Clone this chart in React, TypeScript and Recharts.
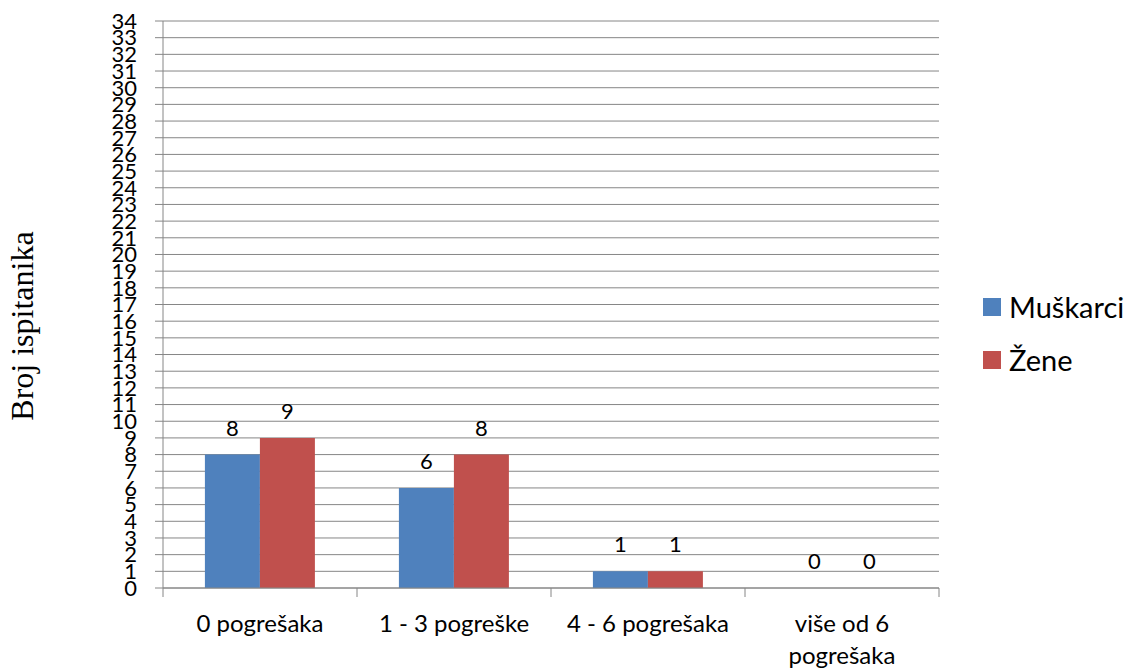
import React from "react";
import {
  BarChart,
  Bar,
  XAxis,
  YAxis,
  CartesianGrid,
  Legend,
  LabelList,
} from "recharts";

const categories = ["0 pogrešaka", "1 - 3 pogreške", "4 - 6 pogrešaka", "više od 6 pogrešaka"];
const muskarci = [8, 6, 1, 0];
const zene = [9, 8, 1, 0];
const yTicks = [0, 1, 2, 3, 4, 5, 6, 7, 8, 9, 10, 11, 12, 13, 14, 15, 16, 17, 18, 19, 20, 21, 22, 23, 24, 25, 26, 27, 28, 29, 30, 31, 32, 33, 34];

const data = categories.map((name, i) => ({ name, muskarci: muskarci[i], zene: zene[i] }));

const W = 1129;
const H = 668;
const Y_AXIS_W = 163;
const RIGHT = 190;
const PLOT_W = W - Y_AXIS_W - RIGHT;
const BAND = PLOT_W / categories.length;
const GRID = "#868686";
const BLUE = "#4F81BD";
const RED = "#C0504D";
const FONT = "Lato, 'Open Sans', sans-serif";

// zero values still need a (practically invisible) bar so the label is drawn
const zeroSize = (v: any) => (v === 0 ? 0.01 : 0);

// simple greedy word wrap by characters
function wrap(label: string, max = 16): string[] {
  const lines: string[] = [];
  let cur = "";
  for (const w of label.split(" ")) {
    const next = cur ? cur + " " + w : w;
    if (next.length > max && cur) {
      lines.push(cur);
      cur = w;
    } else {
      cur = next;
    }
  }
  if (cur) lines.push(cur);
  return lines;
}

function CategoryTick(props: any) {
  const { x, y, payload, index } = props;
  const lines = wrap(String(payload.value));
  return (
    <g>
      <line x1={x - BAND / 2} x2={x - BAND / 2} y1={y} y2={y + 9} stroke={GRID} />
      {index === categories.length - 1 && (
        <line x1={x + BAND / 2} x2={x + BAND / 2} y1={y} y2={y + 9} stroke={GRID} />
      )}
      <text x={x} y={y + 44} textAnchor="middle" fontSize={24} fontFamily={FONT} fill="#000">
        {lines.map((l, i) => (
          <tspan key={i} x={x} dy={i === 0 ? 0 : 32}>
            {l}
          </tspan>
        ))}
      </text>
    </g>
  );
}

function LegendContent() {
  const items = [
    { label: "Muškarci", color: BLUE },
    { label: "Žene", color: RED },
  ];
  return (
    <div style={{ position: "relative", width: 146, height: 90 }}>
      {items.map((it, i) => (
        <div key={it.label} style={{ position: "absolute", left: 0, top: i * 53, display: "flex", alignItems: "center", height: 30 }}>
          <div style={{ width: 18, height: 18, background: it.color, marginRight: 8, flexShrink: 0 }} />
          <span style={{ fontFamily: FONT, fontSize: 29, color: "#000", lineHeight: "30px", whiteSpace: "nowrap" }}>{it.label}</span>
        </div>
      ))}
    </div>
  );
}

export default function App() {
  return (
    <div style={{ position: "absolute", left: 0, top: 0, background: "#fff" }}>
      <BarChart
        width={W}
        height={H}
        data={data}
        margin={{ top: 21, right: RIGHT, bottom: 0, left: 0 }}
        barCategoryGap="21.6%"
        barGap={0}
      >
        <CartesianGrid vertical={false} stroke={GRID} strokeWidth={1} />
        <XAxis
          dataKey="name"
          height={80}
          interval={0}
          tickLine={false}
          tickSize={0}
          tickMargin={0}
          axisLine={{ stroke: GRID }}
          tick={<CategoryTick />}
        />
        <YAxis
          width={Y_AXIS_W}
          domain={[0, 34]}
          ticks={yTicks}
          interval={0}
          tickSize={8}
          tickMargin={18}
          axisLine={{ stroke: GRID }}
          tickLine={{ stroke: GRID }}
          tick={{ fontSize: 22, fontFamily: FONT, fill: "#000" }}
          label={{
            content: () => (
              <text
                x={22}
                y={326}
                transform="rotate(-90 22 326)"
                textAnchor="middle"
                dominantBaseline="central"
                fontFamily="'Liberation Serif', 'Times New Roman', serif"
                fontSize={32}
                fill="#000"
              >
                Broj ispitanika
              </text>
            ),
          }}
        />
        <Legend
          layout="vertical"
          align="center"
          verticalAlign="middle"
          content={<LegendContent />}
          wrapperStyle={{ left: 983, top: 292, width: 146 }}
        />
        <Bar dataKey="muskarci" name="Muškarci" fill={BLUE} minPointSize={zeroSize} isAnimationActive={false}>
          <LabelList dataKey="muskarci" position="top" offset={19} fontSize={22} fontFamily={FONT} fill="#000" />
        </Bar>
        <Bar dataKey="zene" name="Žene" fill={RED} minPointSize={zeroSize} isAnimationActive={false}>
          <LabelList dataKey="zene" position="top" offset={19} fontSize={22} fontFamily={FONT} fill="#000" />
        </Bar>
      </BarChart>
    </div>
  );
}
